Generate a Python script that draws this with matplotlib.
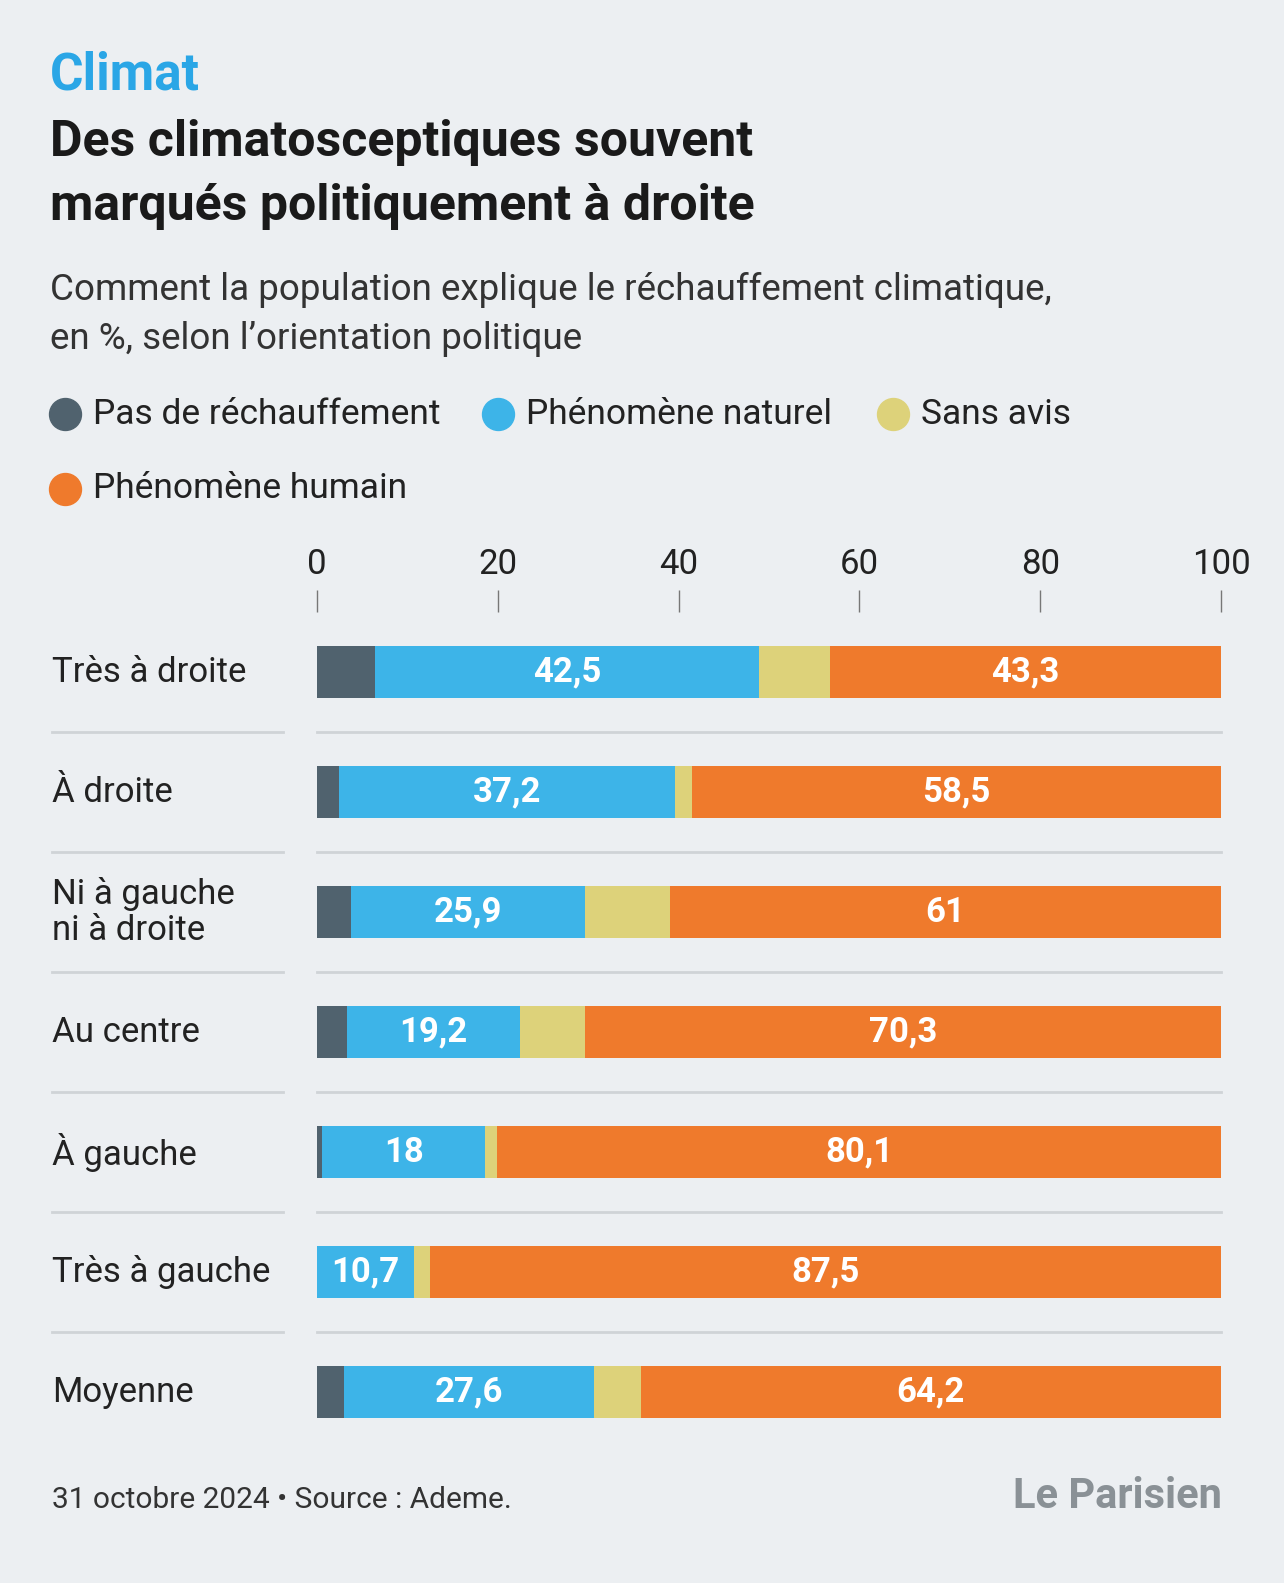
import matplotlib.pyplot as plt
from matplotlib.lines import Line2D

categories = ["Très à droite", "À droite", "Ni à gauche\nni à droite", "Au centre",
              "À gauche", "Très à gauche", "Moyenne"]
pas_rechauffement = [6.4, 2.4, 3.8, 3.3, 0.6, 0.0, 3.0]
naturel = [42.5, 37.2, 25.9, 19.2, 18.0, 10.7, 27.6]
sans_avis = [7.8, 1.9, 9.3, 7.2, 1.3, 1.8, 5.2]
humain = [43.3, 58.5, 61.0, 70.3, 80.1, 87.5, 64.2]

series = [("Pas de réchauffement", pas_rechauffement, "#50626e", False),
          ("Phénomène naturel", naturel, "#3db4e8", True),
          ("Sans avis", sans_avis, "#ddd27a", False),
          ("Phénomène humain", humain, "#ef7a2c", True)]

BG = "#eceff2"
W, H = 1284, 1583
plt.rcParams["font.family"] = ["Roboto", "DejaVu Sans"]

fig = plt.figure(figsize=(W / 100, H / 100), dpi=100, facecolor=BG)


def fy(y):
    return 1 - y / H


def fx(x):
    return x / W


fig.text(fx(50), fy(75), "Climat", color="#2aa6e6", fontsize=37, weight="bold", va="center")
fig.text(fx(50), fy(142), "Des climatosceptiques souvent", color="#1a1a1a", fontsize=36,
         weight="bold", va="center")
fig.text(fx(50), fy(207), "marqués politiquement à droite", color="#1a1a1a", fontsize=36,
         weight="bold", va="center")
fig.text(fx(50), fy(290), "Comment la population explique le réchauffement climatique,",
         color="#333333", fontsize=26.5, va="center")
fig.text(fx(50), fy(339), "en %, selon l’orientation politique", color="#333333",
         fontsize=26.5, va="center")

legend_pos = [(65, 414), (498, 414), (893, 414), (65, 489)]
for (name, _, col, _), (lx, ly) in zip(series, legend_pos):
    fig.add_artist(Line2D([fx(lx)], [fy(ly)], marker="o", markersize=23, color=col,
                          transform=fig.transFigure))
    fig.text(fx(lx + 28), fy(ly), name, color="#222222", fontsize=25.5, va="center")

ax = fig.add_axes([fx(317), fy(1452), (1221 - 317) / W, 840 / H])
ax.set_facecolor(BG)
ypos = list(range(len(categories)))
left = [0.0] * len(categories)
for name, vals, col, labelled in series:
    ax.barh(ypos, vals, left=left, height=0.433, color=col)
    if labelled:
        for i, v in enumerate(vals):
            ax.text(left[i] + v / 2, i, f"{v:g}".replace(".", ","), color="white",
                    fontsize=25, weight="bold", ha="center", va="center")
    left = [a + b for a, b in zip(left, vals)]

ax.set_xlim(0, 100)
ax.set_ylim(6.5, -0.5)
for s in ax.spines.values():
    s.set_visible(False)
ax.xaxis.tick_top()
ax.set_xticks([0, 20, 40, 60, 80, 100])
ax.tick_params(axis="x", length=16, width=1, color="#777777", labelsize=25,
               labelcolor="#222222", pad=6)
ax.set_yticks([])

for i, c in enumerate(categories):
    ax.text(-0.293, i, c, transform=ax.get_yaxis_transform(), fontsize=25,
            color="#222222", va="center", ha="left", linespacing=1.1)

for b in [i + 0.5 for i in range(6)]:
    ax.plot([-0.293, -0.0376], [b, b], transform=ax.get_yaxis_transform(),
            color="#cfd3d7", lw=2, clip_on=False)
    ax.plot([0, 1], [b, b], transform=ax.get_yaxis_transform(), color="#cfd3d7", lw=2,
            clip_on=False)

fig.text(fx(52), fy(1500), "31 octobre 2024 • Source : Ademe.", color="#333333",
         fontsize=21.5, va="center")
fig.text(fx(1222), fy(1497), "Le Parisien", color="#8a9196", fontsize=30, weight="bold",
         va="center", ha="right", fontstretch="condensed")

fig.savefig("out.png", dpi=100, facecolor=BG)
